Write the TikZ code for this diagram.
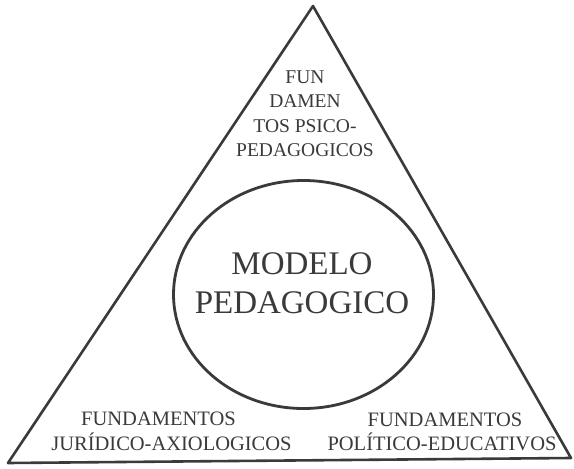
\documentclass[tikz,border=0pt]{standalone}
\usepackage{fontspec}
\setmainfont{Liberation Serif}
\usetikzlibrary{shapes.geometric}
\definecolor{ink}{HTML}{3A3A3A}
\begin{document}
\begin{tikzpicture}[x=1pt,y=-1pt,
  edge/.style={draw=ink,line width=2.6pt,line join=round},
  lbl/.style={text=ink,inner sep=0pt,align=center,font=\fontsize{19.5}{24.5}\selectfont},
  big/.style={text=ink,inner sep=0pt,align=center,font=\fontsize{33}{39}\selectfont}]
\useasboundingbox (0,0) rectangle (574,469);
\fill[white] (0,0) rectangle (574,469);
\coordinate (apex) at (313,6);
\coordinate (bl) at (8,463);
\coordinate (br) at (571,458);
\draw[edge] (apex) -- (bl) -- (br) -- cycle;
\node[ellipse,draw=ink,line width=2.8pt,minimum width=260pt,minimum height=228pt,inner sep=0pt] (circ) at (303.5,294.5) {};
\node[big] (modelo) at (302,283.5) {MODELO\\PEDAGOGICO};
\node[lbl] (top) at (305,113.5) {FUN\\DAMEN\\TOS PSICO-\\PEDAGOGICOS};
\node[lbl,font=\fontsize{20.5}{23}\selectfont] (fl) at (158.5,419) {FUNDAMENTOS};
\node[lbl,font=\fontsize{20.5}{23}\selectfont] (jl) at (171.5,442) {JURÍDICO-AXIOLOGICOS};
\node[lbl,font=\fontsize{20.5}{23}\selectfont] (fr) at (445,420) {FUNDAMENTOS};
\node[lbl,font=\fontsize{20.5}{23}\selectfont] (pr) at (442,442) {POLÍTICO-EDUCATIVOS};
\end{tikzpicture}
\end{document}
